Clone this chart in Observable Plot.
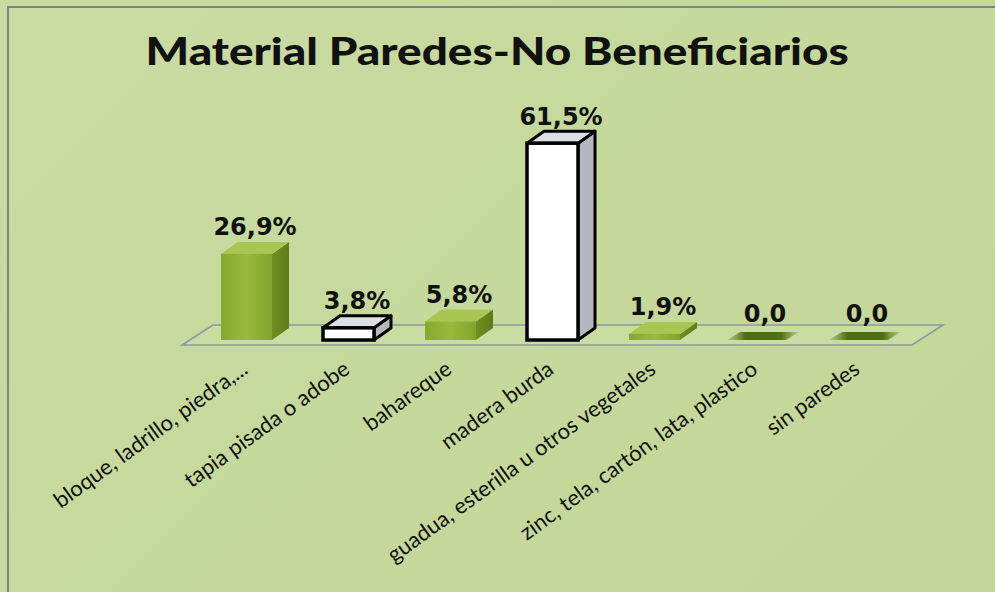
<!DOCTYPE html>
<html>
<head>
<meta charset="utf-8">
<script src="https://cdn.jsdelivr.net/npm/d3@7"></script>
<script src="https://cdn.jsdelivr.net/npm/@observablehq/plot@0.6"></script>
<style>
  html, body { margin: 0; padding: 0; background: #c6d99b; }
  #wrap {
    position: relative; width: 995px; height: 592px; overflow: hidden;
    background: linear-gradient(135deg, #cbdca3 0%, #c6d99c 45%, #c4d798 100%);
  }
  #frame {
    position: absolute; left: 7px; top: 6px; right: -10px; bottom: -10px;
    border-left: 2px solid #7a8580; border-top: 2px solid #7a8580;
    pointer-events: none;
  }
  #title {
    position: absolute; left: 0; width: 995px; top: 28px; text-align: center;
    font-family: Lato, "Open Sans", sans-serif; font-weight: 900; font-size: 37px;
    color: #111; transform: scaleX(1.24); transform-origin: 499px 0;
  }
  #chart { position: absolute; left: 0; top: 0; }
</style>
</head>
<body>
<div id="wrap">
  <div id="chart"></div>
  <div id="frame"></div>
  <div id="title">Material Paredes-No Beneficiarios</div>
</div>
<script>
const categories = [
  "bloque, ladrillo, piedra,...",
  "tapia pisada o adobe",
  "bahareque",
  "madera burda",
  "guadua, esterilla u otros vegetales",
  "zinc, tela, cartón, lata, plastico",
  "sin paredes"
];
const values = [26.9, 3.8, 5.8, 61.5, 1.9, 0.0, 0.0];
const valueLabels = ["26,9%", "3,8%", "5,8%", "61,5%", "1,9%", "0,0", "0,0"];
const whiteBars = ["tapia pisada o adobe", "madera burda"];

const data = categories.map((c, i) => ({cat: c, v: values[i], lab: valueLabels[i]}));

const DX = 17, DY = -12;

function bars3d(index, scales, vals, dims) {
  const ns = "http://www.w3.org/2000/svg";
  const g = document.createElementNS(ns, "g");
  const defs = document.createElementNS(ns, "defs");
  defs.innerHTML = `
    <linearGradient id="gSide" x1="0" x2="1" y1="0" y2="0">
      <stop offset="0" stop-color="#6f8f22"/><stop offset="1" stop-color="#5d7c1a"/>
    </linearGradient>
    <linearGradient id="gFront" x1="0" x2="1" y1="0" y2="0">
      <stop offset="0" stop-color="#86a82e"/><stop offset="0.5" stop-color="#98b93c"/><stop offset="1" stop-color="#83a42c"/>
    </linearGradient>
    <linearGradient id="gZero" x1="0" x2="1" y1="0" y2="0">
      <stop offset="0" stop-color="#7a9a2a" stop-opacity="0.3"/>
      <stop offset="0.25" stop-color="#4f6e16"/>
      <stop offset="0.75" stop-color="#4f6e16"/>
      <stop offset="1" stop-color="#7a9a2a" stop-opacity="0.3"/>
    </linearGradient>`;
  g.appendChild(defs);
  const x = scales.x, y = scales.y, w = x.bandwidth();
  const y0 = y(0);
  const xr = x.range();
  const fl = xr[0] - 10, fr = xr[1], fy = y0 + 5;
  const floor = document.createElementNS(ns, "path");
  floor.setAttribute("d", `M${fl},${fy}L${fr},${fy}L${fr + 31},${fy - 20}L${fl + 31},${fy - 20}Z`);
  floor.setAttribute("fill", "#c9dca2");
  floor.setAttribute("stroke", "#8b98a6");
  floor.setAttribute("stroke-width", "1.6");
  g.appendChild(floor);
  for (const d of data) {
    const x0 = x(d.cat), y1 = y(d.v);
    const white = whiteBars.includes(d.cat);
    const poly = (pts, fill, stroke, sw) => {
      const p = document.createElementNS(ns, "path");
      p.setAttribute("d", "M" + pts.map(q => q.join(",")).join("L") + "Z");
      p.setAttribute("fill", fill);
      if (stroke) { p.setAttribute("stroke", stroke); p.setAttribute("stroke-width", sw); p.setAttribute("stroke-linejoin", "round"); }
      g.appendChild(p);
    };
    if (d.v === 0) {
      poly([[x0 - 4, y1], [x0 + w + 4, y1], [x0 + w + DX, y1 + DY / 2 - 2], [x0 + DX - 8, y1 + DY / 2 - 2]], "url(#gZero)");
      continue;
    }
    if (white) {
      poly([[x0 + w, y1], [x0 + w + DX, y1 + DY], [x0 + w + DX, y0 + DY], [x0 + w, y0]], "#b4b8bd", "#000", 3);
      poly([[x0, y1], [x0 + DX, y1 + DY], [x0 + w + DX, y1 + DY], [x0 + w, y1]], "#dcdfe3", "#000", 3);
    } else {
      poly([[x0 + w, y1], [x0 + w + DX, y1 + DY], [x0 + w + DX, y0 + DY], [x0 + w, y0]], "url(#gSide)");
      poly([[x0, y1], [x0 + DX, y1 + DY], [x0 + w + DX, y1 + DY], [x0 + w, y1]], "#a9c552");
    }
  }
  return g;
}

const plot = Plot.plot({
  width: 995,
  height: 592,
  marginLeft: 192,
  marginRight: 83,
  marginTop: 100,
  marginBottom: 252,
  style: {background: "transparent", overflow: "visible"},
  x: {domain: categories, paddingInner: 0.5, paddingOuter: 0.25, axis: null},
  y: {domain: [0, 75], axis: null},
  marks: [
    bars3d,
    Plot.barY(data.filter(d => d.v > 0 && !whiteBars.includes(d.cat)), {
      x: "cat", y: "v", fill: "url(#gFront)"
    }),
    Plot.barY(data.filter(d => d.v > 0 && whiteBars.includes(d.cat)), {
      x: "cat", y: "v", fill: "#ffffff", stroke: "#000", strokeWidth: 3.5
    }),
    Plot.text(data, {
      x: "cat", y: "v", text: "lab", dx: 8, dy: -19, lineAnchor: "bottom",
      fontFamily: "DejaVu Sans, sans-serif", fontWeight: "bold", fontSize: 24,
      fill: "#111"
    }),
    Plot.text(data, {
      x: "cat", frameAnchor: "bottom", text: "cat", rotate: -36, textAnchor: "end",
      lineAnchor: "middle", dy: 26, dx: -2,
      fontFamily: "Lato, 'Open Sans', sans-serif", fontSize: 22, fill: "#111"
    })
  ]
});
document.getElementById("chart").appendChild(plot);
</script>
</body>
</html>
